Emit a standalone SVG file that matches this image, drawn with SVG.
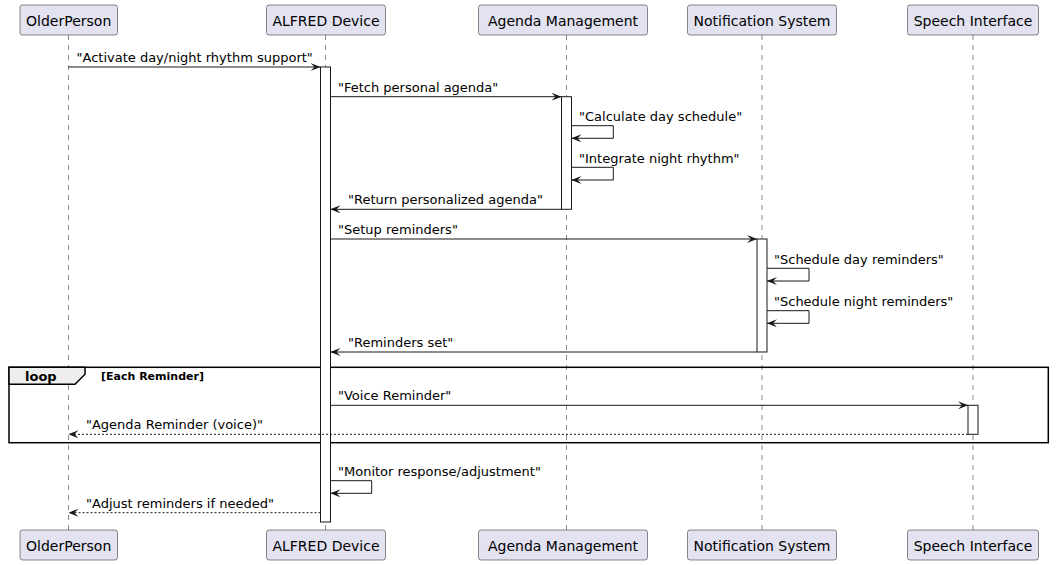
<svg xmlns="http://www.w3.org/2000/svg" width="1059" height="565" viewBox="0 0 1059 565">
<style>
  .pbox { fill: #E2E2F0; stroke: #181818; stroke-width: 0.5; }
  .ptext { font-family: "DejaVu Sans", sans-serif; font-size: 14px; fill: #000; text-anchor: middle; }
  .life { stroke: #181818; stroke-width: 0.5; stroke-dasharray: 5,5; fill: none; }
  .act { fill: #FFFFFF; stroke: #181818; stroke-width: 1; }
  .msg { stroke: #181818; stroke-width: 1; fill: none; marker-end: url(#arrow); }
  .ret { stroke: #181818; stroke-width: 1; fill: none; stroke-dasharray: 2,2; marker-end: url(#arrow); }
  .mtext { font-family: "DejaVu Sans", sans-serif; font-size: 13px; fill: #000; }
  .frame { fill: none; stroke: #000; stroke-width: 1.5; }
  .tab { fill: #EEEEEE; stroke: #000; stroke-width: 1.5; }
  .ltext { font-family: "DejaVu Sans", sans-serif; font-size: 13px; font-weight: bold; fill: #000; }
  .gtext { font-family: "DejaVu Sans", sans-serif; font-size: 11px; font-weight: bold; fill: #000; }
</style>
<defs>
  <marker id="arrow" viewBox="0 0 10 8" refX="10" refY="4" markerWidth="10" markerHeight="8" markerUnits="userSpaceOnUse" orient="auto">
    <path d="M0,0 L10,4 L0,8 L4,4 Z" fill="#181818"/>
  </marker>
</defs>
<rect width="1059" height="565" fill="#FFFFFF"/>

<g id="lifelines">
  <line class="life" x1="68.5" y1="35" x2="68.5" y2="530"/>
  <line class="life" x1="325.5" y1="35" x2="325.5" y2="530"/>
  <line class="life" x1="566.5" y1="35" x2="566.5" y2="530"/>
  <line class="life" x1="762" y1="35" x2="762" y2="530"/>
  <line class="life" x1="973" y1="35" x2="973" y2="530"/>
</g>

<g id="loop-frame">
  <rect class="frame" x="9" y="367.3" width="1039.3" height="75.4"/>
  <polygon class="tab" points="9,367.3 85,367.3 85,374.3 75,384.3 9,384.3"/>
  <text class="ltext" x="25" y="380.5">loop</text>
  <text class="gtext" x="101" y="379.5">[Each Reminder]</text>
</g>

<g id="activations">
  <rect class="act" x="320.5" y="67" width="10" height="455"/>
  <rect class="act" x="561.5" y="96.7" width="10" height="112.6"/>
  <rect class="act" x="757" y="239" width="10" height="113"/>
  <rect class="act" x="968" y="405.3" width="10" height="29"/>
</g>

<g id="OlderPerson">
  <rect class="pbox" x="20" y="5" width="97.5" height="30" rx="2.5"/>
  <text class="ptext" x="68.7" y="25.5">OlderPerson</text>
  <rect class="pbox" x="20" y="530" width="97.5" height="30" rx="2.5"/>
  <text class="ptext" x="68.7" y="550.5">OlderPerson</text>
</g>
<g id="ALFRED_Device">
  <rect class="pbox" x="266.5" y="5" width="119" height="30" rx="2.5"/>
  <text class="ptext" x="326" y="25.5">ALFRED Device</text>
  <rect class="pbox" x="266.5" y="530" width="119" height="30" rx="2.5"/>
  <text class="ptext" x="326" y="550.5">ALFRED Device</text>
</g>
<g id="Agenda_Management">
  <rect class="pbox" x="478.5" y="5" width="169" height="30" rx="2.5"/>
  <text class="ptext" x="563" y="25.5">Agenda Management</text>
  <rect class="pbox" x="478.5" y="530" width="169" height="30" rx="2.5"/>
  <text class="ptext" x="563" y="550.5">Agenda Management</text>
</g>
<g id="Notification_System">
  <rect class="pbox" x="687.5" y="5" width="149" height="30" rx="2.5"/>
  <text class="ptext" x="762" y="25.5">Notification System</text>
  <rect class="pbox" x="687.5" y="530" width="149" height="30" rx="2.5"/>
  <text class="ptext" x="762" y="550.5">Notification System</text>
</g>
<g id="Speech_Interface">
  <rect class="pbox" x="907.5" y="5" width="131" height="30" rx="2.5"/>
  <text class="ptext" x="973" y="25.5">Speech Interface</text>
  <rect class="pbox" x="907.5" y="530" width="131" height="30" rx="2.5"/>
  <text class="ptext" x="973" y="550.5">Speech Interface</text>
</g>

<g id="connectors">
  <line class="msg" x1="68.5" y1="67" x2="320.5" y2="67"/>
  <text class="mtext" x="76.5" y="62">"Activate day/night rhythm support"</text>

  <line class="msg" x1="330.5" y1="96.7" x2="561.5" y2="96.7"/>
  <text class="mtext" x="338" y="91.7">"Fetch personal agenda"</text>

  <path class="msg" d="M571.5,125.7 H613.3 V138.3 H571.5"/>
  <text class="mtext" x="579" y="121">"Calculate day schedule"</text>

  <path class="msg" d="M571.5,167.3 H613.3 V180 H571.5"/>
  <text class="mtext" x="579" y="162.5">"Integrate night rhythm"</text>

  <line class="msg" x1="561.5" y1="209.3" x2="330.5" y2="209.3"/>
  <text class="mtext" x="348" y="204.3">"Return personalized agenda"</text>

  <line class="msg" x1="330.5" y1="239" x2="757" y2="239"/>
  <text class="mtext" x="338" y="234">"Setup reminders"</text>

  <path class="msg" d="M767,268.3 H809 V281 H767"/>
  <text class="mtext" x="774" y="263.5">"Schedule day reminders"</text>

  <path class="msg" d="M767,310.7 H809 V323.3 H767"/>
  <text class="mtext" x="774" y="305.7">"Schedule night reminders"</text>

  <line class="msg" x1="757" y1="352" x2="330.5" y2="352"/>
  <text class="mtext" x="348" y="347">"Reminders set"</text>

  <line class="msg" x1="330.5" y1="405.3" x2="968" y2="405.3"/>
  <text class="mtext" x="338" y="400.3">"Voice Reminder"</text>

  <line class="ret" x1="968" y1="434.3" x2="68.5" y2="434.3"/>
  <text class="mtext" x="86" y="429.3">"Agenda Reminder (voice)"</text>

  <path class="msg" d="M330.5,480.7 H371.7 V493.3 H330.5"/>
  <text class="mtext" x="338" y="476">"Monitor response/adjustment"</text>

  <line class="ret" x1="320.5" y1="512.7" x2="68.5" y2="512.7"/>
  <text class="mtext" x="86" y="507.7">"Adjust reminders if needed"</text>
</g>
</svg>
